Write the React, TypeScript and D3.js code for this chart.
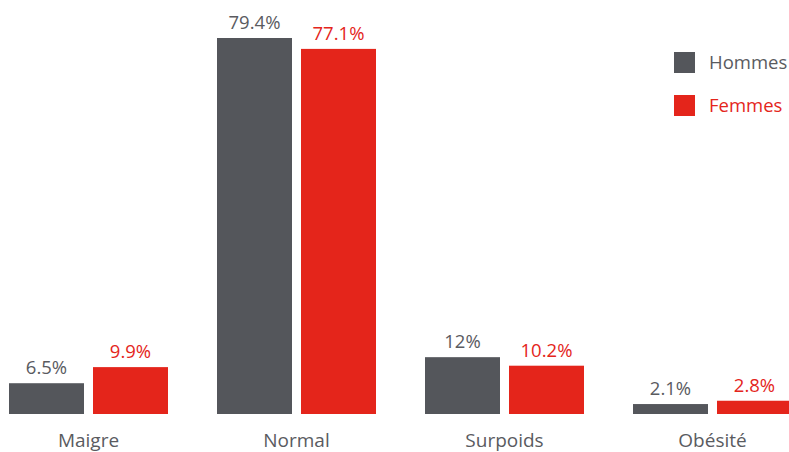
import React from "react";
import * as d3 from "d3";

const categories = ["Maigre", "Normal", "Surpoids", "Obésité"];
const seriesNames = ["Hommes", "Femmes"];
const hommes = [6.5, 79.4, 12, 2.1];
const femmes = [9.9, 77.1, 10.2, 2.8];
const hommesLabels = ["6.5%", "79.4%", "12%", "2.1%"];
const femmesLabels = ["9.9%", "77.1%", "10.2%", "2.8%"];

const W = 789;
const H = 452;
const GREY = "#54565b";
const RED = "#e4251b";
const TEXT_GREY = "#5a5b5f";
const FONT = "'Open Sans', 'Noto Sans', sans-serif";

export default function App() {
  const baseline = 414;
  const y = d3.scaleLinear().domain([0, 79.4]).range([baseline, 38]);
  const x0 = d3.scaleBand<string>().domain(categories).range([9, 792]).paddingInner(49 / 208);
  const x1 = d3.scaleBand<string>().domain(seriesNames).range([0, x0.bandwidth()]).paddingInner(9 / 84);
  const series = [
    { name: "Hommes", values: hommes, labels: hommesLabels, color: GREY, text: TEXT_GREY },
    { name: "Femmes", values: femmes, labels: femmesLabels, color: RED, text: RED },
  ];
  return (
    <svg width={W} height={H} style={{ position: "absolute", left: 0, top: 0 }} fontFamily={FONT}>
      <rect x={0} y={0} width={W} height={H} fill="#fff" />
      {categories.map((c, i) => (
        <g key={c} transform={`translate(${x0(c)},0)`}>
          {series.map((s) => {
            const v = s.values[i];
            const bx = x1(s.name)!;
            return (
              <g key={s.name}>
                <rect x={bx} y={y(v)} width={x1.bandwidth()} height={baseline - y(v)} fill={s.color} />
                <text x={bx + x1.bandwidth() / 2} y={y(v) - 9} textAnchor="middle" fontSize={18.5} fill={s.text}>
                  {s.labels[i]}
                </text>
              </g>
            );
          })}
          <text x={x0.bandwidth() / 2} y={447} textAnchor="middle" fontSize={19} fill={TEXT_GREY}>
            {c}
          </text>
        </g>
      ))}
      {series.map((s, i) => (
        <g key={s.name} transform={`translate(674,${52 + i * 43})`}>
          <rect x={0} y={0} width={21} height={21} fill={s.color} />
          <text x={35} y={16.5} fontSize={18.5} fill={s.text}>
            {s.name}
          </text>
        </g>
      ))}
    </svg>
  );
}
